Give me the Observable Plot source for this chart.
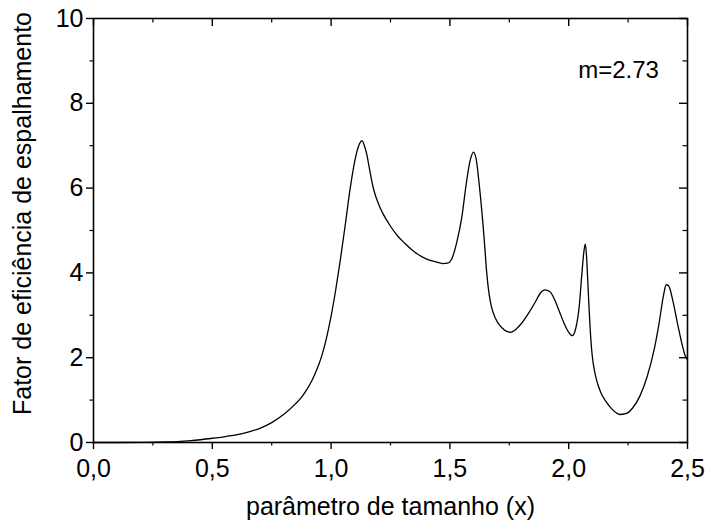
<!DOCTYPE html>
<html>
<head>
<meta charset="utf-8">
<script src="https://cdn.jsdelivr.net/npm/d3@7"></script>
<script src="https://cdn.jsdelivr.net/npm/@observablehq/plot@0.6"></script>
<style>
  html, body { margin: 0; padding: 0; background: #fff; }
</style>
</head>
<body>
<div id="chart"></div>
<script>
// Size parameter (x) and scattering efficiency values
const xs = [0.00, 0.10, 0.20, 0.30, 0.40, 0.45, 0.50, 0.55, 0.60, 0.65, 0.70, 0.75, 0.80, 0.85, 0.88, 0.90, 0.92, 0.94, 0.96, 0.98,
  1.00, 1.02, 1.04, 1.06, 1.08, 1.10, 1.12, 1.13, 1.14, 1.15, 1.16, 1.17, 1.18, 1.20, 1.22, 1.25, 1.28, 1.31, 1.35, 1.40, 1.44, 1.47, 1.49,
  1.51, 1.53, 1.55, 1.57, 1.585, 1.60, 1.61, 1.625, 1.645, 1.655, 1.665, 1.675, 1.69, 1.71, 1.73, 1.755, 1.78, 1.80, 1.83, 1.86, 1.88,
  1.90, 1.92, 1.94, 1.96, 1.98, 2.00, 2.015, 2.03, 2.045, 2.055, 2.065, 2.07, 2.075, 2.08, 2.085, 2.09, 2.095, 2.10, 2.11, 2.12, 2.135,
  2.155, 2.18, 2.20, 2.215, 2.24, 2.27, 2.30, 2.33, 2.36, 2.38, 2.40, 2.41, 2.42, 2.44, 2.46, 2.48, 2.49, 2.50];
const qsca = [0.000, 0.000, 0.003, 0.012, 0.040, 0.065, 0.100, 0.135, 0.180, 0.245, 0.335, 0.47, 0.66, 0.91, 1.10, 1.27, 1.47, 1.72, 2.03, 2.45,
  2.98, 3.62, 4.35, 5.15, 5.98, 6.65, 7.05, 7.12, 7.00, 6.80, 6.50, 6.20, 5.95, 5.62, 5.38, 5.10, 4.87, 4.70, 4.50, 4.33, 4.26, 4.22, 4.23,
  4.36, 4.75, 5.31, 6.15, 6.65, 6.85, 6.70, 6.00, 4.75, 4.00, 3.50, 3.20, 2.95, 2.76, 2.65, 2.60, 2.68, 2.80, 3.04, 3.32, 3.52,
  3.60, 3.56, 3.38, 3.10, 2.82, 2.60, 2.52, 2.70, 3.25, 3.95, 4.55, 4.68, 4.40, 3.85, 3.25, 2.72, 2.30, 2.00, 1.65, 1.42, 1.18,
  0.98, 0.80, 0.70, 0.66, 0.68, 0.82, 1.10, 1.55, 2.20, 2.80, 3.50, 3.72, 3.70, 3.30, 2.75, 2.25, 2.05, 1.95];

const xMajor = [0, 0.5, 1.0, 1.5, 2.0, 2.5];
const xMinor = [0.25, 0.75, 1.25, 1.75, 2.25];
const yMajor = [0, 2, 4, 6, 8, 10];
const yMinor = [1, 3, 5, 7, 9];
const xTitle = "parâmetro de tamanho (x)";
const yTitle = "Fator de eficiência de espalhamento";
const annotation = "m=2.73";

const data = xs.map((x, i) => ({x, y: qsca[i]}));
const font = "'Liberation Sans', Arial, Helvetica, sans-serif";
const fmt = d => d.toFixed(1).replace(".", ",");

const W = 708, H = 529, ML = 93, MR = 21, MT = 18, MB = 87;
const innerW = W - ML - MR, innerH = H - MT - MB;

const chart = Plot.plot({
  width: W,
  height: H,
  marginLeft: ML,
  marginRight: MR,
  marginTop: MT,
  marginBottom: MB,
  style: {fontFamily: font, fontSize: "25px", color: "#000", background: "#fff"},
  x: {domain: [0, 2.5], axis: null},
  y: {domain: [0, 10], axis: null},
  marks: [
    Plot.frame({stroke: "#000", strokeWidth: 1.6}),
    // bottom axis (outward)
    Plot.axisX(xMajor, {anchor: "bottom", label: null, tickSize: 7, tickPadding: 10, tickFormat: fmt, strokeWidth: 1.4, fontSize: 25}),
    Plot.axisX(xMinor, {anchor: "bottom", label: null, tickSize: 3.5, tickFormat: () => "", strokeWidth: 1.2}),
    // top axis (inward ticks)
    Plot.ruleX(xMajor, {x: d => d, insetBottom: innerH - 8, stroke: "#000", strokeWidth: 1.4}),
    Plot.ruleX(xMinor, {x: d => d, insetBottom: innerH - 4.5, stroke: "#000", strokeWidth: 1.2}),
    // left axis (outward)
    Plot.axisY(yMajor, {anchor: "left", label: null, tickSize: 7, tickPadding: 3, tickFormat: d => String(d), strokeWidth: 1.4, fontSize: 25}),
    Plot.axisY(yMinor, {anchor: "left", label: null, tickSize: 3.5, tickFormat: () => "", strokeWidth: 1.2}),
    // right axis (inward ticks)
    Plot.ruleY(yMajor, {y: d => d, insetLeft: innerW - 8, stroke: "#000", strokeWidth: 1.4}),
    Plot.ruleY(yMinor, {y: d => d, insetLeft: innerW - 4.5, stroke: "#000", strokeWidth: 1.2}),
    // curve
    Plot.line(data, {x: "x", y: "y", curve: "monotone-x", stroke: "#000", strokeWidth: 1.3}),
    // titles
    Plot.text([xTitle], {text: d => d, frameAnchor: "bottom", dy: 64, lineAnchor: "middle", fontSize: 25, fill: "#000"}),
    Plot.text([yTitle], {text: d => d, frameAnchor: "left", dx: -71, dy: -17, rotate: -90, lineAnchor: "middle", textAnchor: "middle", fontSize: 25, fill: "#000"}),
    Plot.text([annotation], {text: d => d, frameAnchor: "top-right", dx: -69, dy: 52, textAnchor: "middle", lineAnchor: "middle", fontSize: 24, fill: "#000"})
  ]
});
document.getElementById("chart").appendChild(chart);
</script>
</body>
</html>
